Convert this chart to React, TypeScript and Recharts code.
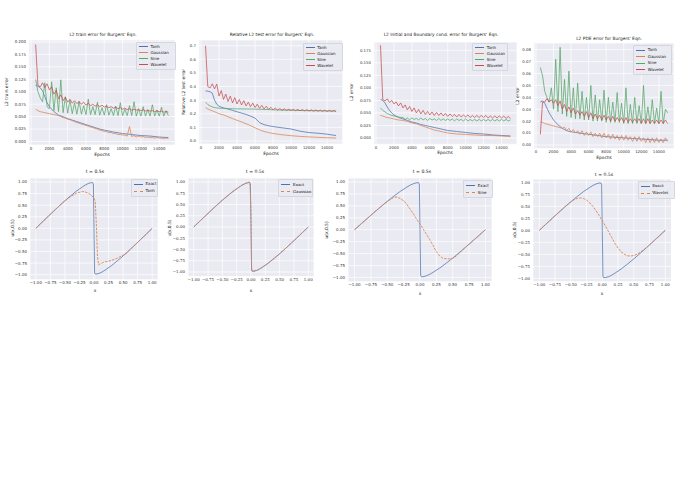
import React from "react";
import { LineChart, Line, XAxis, YAxis, CartesianGrid } from "recharts";

// seaborn deep palette
const BLUE = "#4C72B0";
const ORANGE = "#DD8452";
const GREEN = "#55A868";
const RED = "#C44E52";

const epochsDense = [
  500, 750, 1000, 1250, 1500, 1750, 2000, 2250, 2500, 2750, 3000, 3250, 3500, 3750, 4000, 4250, 4500, 4750, 5000,
  5250, 5500, 5750, 6000, 6250, 6500, 6750, 7000, 7250, 7500, 7750, 8000, 8250, 8500, 8750, 9000, 9250, 9500, 9750,
  10000, 10250, 10500, 10750, 11000, 11250, 11500, 11750, 12000, 12250, 12500, 12750, 13000, 13250, 13500, 13750,
  14000, 14250, 14500, 14750, 15000,
];
const epochsSparse = [
  500, 750, 1000, 1250, 1500, 1750, 2000, 2500, 3000, 3500, 4000, 4500, 5000, 5500, 6000, 6500, 7000, 7500, 8000,
  9000, 10000, 11000, 12000, 13000, 14000, 15000,
];
const epochTicks = [0, 2000, 4000, 6000, 8000, 10000, 12000, 14000];

// L2 train error
const trainTanh = [
  0.113, 0.111, 0.108, 0.102, 0.09, 0.078, 0.07, 0.06, 0.053, 0.05, 0.046, 0.043, 0.04, 0.037, 0.034, 0.031, 0.028,
  0.025, 0.023, 0.019, 0.016, 0.014, 0.012, 0.011, 0.009, 0.008,
];
const trainGaussian = [
  0.065, 0.062, 0.06, 0.059, 0.058, 0.057, 0.056, 0.055, 0.054, 0.053, 0.052, 0.05, 0.048, 0.047, 0.045, 0.044, 0.042,
  0.04, 0.038, 0.037, 0.035, 0.034, 0.032, 0.031, 0.029, 0.028, 0.026, 0.025, 0.023, 0.022, 0.02, 0.02, 0.018, 0.018,
  0.016, 0.016, 0.014, 0.014, 0.013, 0.013, 0.011, 0.03, 0.01, 0.012, 0.009, 0.011, 0.009, 0.01, 0.008, 0.009, 0.008,
  0.008, 0.007, 0.008, 0.007, 0.007, 0.006, 0.007, 0.006,
];
const trainSine = [
  0.125, 0.1, 0.088, 0.08, 0.118, 0.07, 0.066, 0.12, 0.062, 0.108, 0.06, 0.124, 0.058, 0.09, 0.057, 0.083, 0.056,
  0.078, 0.055, 0.081, 0.055, 0.072, 0.054, 0.085, 0.054, 0.07, 0.054, 0.079, 0.053, 0.068, 0.053, 0.074, 0.053,
  0.066, 0.052, 0.071, 0.052, 0.078, 0.052, 0.065, 0.052, 0.072, 0.052, 0.08, 0.051, 0.066, 0.051, 0.07, 0.051, 0.064,
  0.051, 0.074, 0.051, 0.063, 0.051, 0.069, 0.051, 0.062, 0.052,
];
const trainWavelet = [
  0.195, 0.113, 0.11, 0.118, 0.108, 0.116, 0.104, 0.11, 0.095, 0.103, 0.086, 0.094, 0.082, 0.089, 0.079, 0.085, 0.077,
  0.082, 0.076, 0.08, 0.075, 0.079, 0.073, 0.077, 0.072, 0.075, 0.071, 0.074, 0.07, 0.073, 0.069, 0.071, 0.068, 0.07,
  0.067, 0.069, 0.066, 0.068, 0.065, 0.067, 0.064, 0.066, 0.063, 0.065, 0.063, 0.064, 0.062, 0.064, 0.061, 0.063,
  0.061, 0.062, 0.06, 0.062, 0.06, 0.061, 0.059, 0.06, 0.059,
];

// Relative L2 test error
const testTanh = [
  0.368, 0.366, 0.362, 0.352, 0.3, 0.27, 0.255, 0.243, 0.235, 0.225, 0.215, 0.205, 0.195, 0.183, 0.168, 0.135, 0.12,
  0.112, 0.106, 0.097, 0.088, 0.072, 0.062, 0.057, 0.05, 0.04,
];
const testGaussian = [
  0.245, 0.236, 0.228, 0.222, 0.215, 0.208, 0.2, 0.192, 0.178, 0.165, 0.152, 0.14, 0.127, 0.113, 0.097, 0.082, 0.07,
  0.062, 0.055, 0.046, 0.039, 0.034, 0.03, 0.027, 0.024, 0.022,
];
const testSine = [
  0.285, 0.268, 0.258, 0.25, 0.246, 0.243, 0.241, 0.239, 0.238, 0.237, 0.236, 0.236, 0.235, 0.235, 0.234, 0.233, 0.232,
  0.231, 0.229, 0.227, 0.226, 0.224, 0.223, 0.222, 0.221, 0.22,
];
const testWavelet = [
  0.7, 0.4, 0.39, 0.42, 0.383, 0.418, 0.33, 0.37, 0.305, 0.345, 0.29, 0.33, 0.28, 0.318, 0.272, 0.305, 0.265, 0.296,
  0.258, 0.285, 0.252, 0.278, 0.246, 0.27, 0.24, 0.262, 0.236, 0.255, 0.232, 0.248, 0.229, 0.242, 0.227, 0.238, 0.226,
  0.236, 0.225, 0.234, 0.224, 0.233, 0.223, 0.232, 0.222, 0.231, 0.221, 0.23, 0.22, 0.229, 0.219, 0.228, 0.219, 0.227,
  0.218, 0.226, 0.217, 0.225, 0.217, 0.224, 0.216,
];

// L2 initial and boundary condition error
const ibcTanh = [
  0.077, 0.075, 0.07, 0.062, 0.055, 0.05, 0.046, 0.041, 0.038, 0.035, 0.032, 0.03, 0.027, 0.025, 0.023, 0.021, 0.019,
  0.017, 0.015, 0.013, 0.011, 0.009, 0.008, 0.006, 0.005, 0.004,
];
const ibcGaussian = [
  0.045, 0.044, 0.042, 0.041, 0.04, 0.039, 0.038, 0.036, 0.035, 0.033, 0.03, 0.028, 0.025, 0.022, 0.019, 0.016, 0.014,
  0.012, 0.01, 0.008, 0.007, 0.006, 0.005, 0.005, 0.004, 0.003,
];
const ibcSine = [
  0.06, 0.055, 0.052, 0.049, 0.047, 0.045, 0.044, 0.043, 0.042, 0.041, 0.041, 0.037, 0.04, 0.036, 0.04, 0.037, 0.039,
  0.036, 0.04, 0.036, 0.039, 0.035, 0.039, 0.036, 0.038, 0.035, 0.039, 0.035, 0.038, 0.035, 0.038, 0.035, 0.038,
  0.034, 0.038, 0.035, 0.037, 0.034, 0.038, 0.034, 0.037, 0.034, 0.037, 0.034, 0.037, 0.034, 0.037, 0.034, 0.037,
  0.034, 0.037, 0.034, 0.037, 0.034, 0.037, 0.034, 0.037, 0.034, 0.036,
];
const ibcWavelet = [
  0.185, 0.077, 0.074, 0.078, 0.071, 0.075, 0.068, 0.072, 0.064, 0.07, 0.06, 0.066, 0.056, 0.063, 0.053, 0.06, 0.05,
  0.057, 0.048, 0.055, 0.047, 0.053, 0.046, 0.052, 0.045, 0.051, 0.045, 0.05, 0.044, 0.049, 0.043, 0.048, 0.043, 0.047,
  0.042, 0.047, 0.042, 0.046, 0.042, 0.046, 0.041, 0.045, 0.041, 0.045, 0.041, 0.045, 0.041, 0.045, 0.04, 0.044, 0.04,
  0.044, 0.04, 0.044, 0.04, 0.044, 0.039, 0.043, 0.039,
];

// L2 PDE error
const pdeTanh = [
  0.036, 0.037, 0.035, 0.031, 0.027, 0.024, 0.021, 0.017, 0.014, 0.012, 0.011, 0.0105, 0.01, 0.0095, 0.009, 0.0085,
  0.008, 0.0075, 0.007, 0.0065, 0.006, 0.0055, 0.005, 0.0045, 0.004, 0.004,
];
const pdeGaussian = [
  0.0195, 0.019, 0.018, 0.0175, 0.017, 0.0165, 0.016, 0.0155, 0.015, 0.0145, 0.014, 0.015, 0.012, 0.014, 0.011, 0.013,
  0.01, 0.012, 0.009, 0.012, 0.008, 0.011, 0.008, 0.011, 0.007, 0.01, 0.007, 0.01, 0.006, 0.01, 0.006, 0.009, 0.005,
  0.009, 0.005, 0.008, 0.004, 0.008, 0.004, 0.008, 0.004, 0.007, 0.003, 0.007, 0.003, 0.007, 0.003, 0.006, 0.002,
  0.006, 0.002, 0.006, 0.002, 0.006, 0.002, 0.005, 0.002, 0.006, 0.003,
];
const pdeSine = [
  0.065, 0.058, 0.045, 0.04, 0.036, 0.048, 0.03, 0.072, 0.028, 0.082, 0.026, 0.055, 0.024, 0.062, 0.023, 0.048, 0.022,
  0.052, 0.022, 0.045, 0.021, 0.04, 0.021, 0.05, 0.02, 0.042, 0.02, 0.038, 0.02, 0.046, 0.019, 0.04, 0.019, 0.036,
  0.019, 0.044, 0.019, 0.035, 0.018, 0.048, 0.018, 0.034, 0.018, 0.04, 0.018, 0.033, 0.018, 0.05, 0.018, 0.032, 0.018,
  0.038, 0.018, 0.031, 0.018, 0.045, 0.018, 0.03, 0.027,
];
const pdeWavelet = [
  0.009, 0.036, 0.036, 0.039, 0.036, 0.038, 0.035, 0.038, 0.033, 0.037, 0.03, 0.034, 0.028, 0.032, 0.027, 0.031, 0.026,
  0.029, 0.025, 0.028, 0.024, 0.028, 0.023, 0.027, 0.022, 0.026, 0.022, 0.025, 0.021, 0.025, 0.021, 0.024, 0.02, 0.024,
  0.02, 0.023, 0.02, 0.023, 0.019, 0.023, 0.019, 0.022, 0.019, 0.022, 0.019, 0.022, 0.018, 0.022, 0.018, 0.022, 0.018,
  0.021, 0.018, 0.021, 0.018, 0.021, 0.018, 0.021, 0.018,
];

// u(x, 0.5) profiles
const exactX = [
  -1, -0.9, -0.8, -0.7, -0.6, -0.5, -0.4, -0.3, -0.2, -0.15, -0.1, -0.05, -0.02, -0.01, 0, 0.01, 0.02, 0.05, 0.1, 0.15,
  0.2, 0.3, 0.4, 0.5, 0.6, 0.7, 0.8, 0.9, 1,
];
const exactU = [
  0, 0.122, 0.243, 0.363, 0.481, 0.595, 0.703, 0.805, 0.893, 0.934, 0.966, 0.985, 0.985, 0.96, 0, -0.96, -0.985,
  -0.985, -0.966, -0.934, -0.893, -0.805, -0.703, -0.595, -0.481, -0.363, -0.243, -0.122, 0,
];
const tanhX = [
  -1, -0.9, -0.8, -0.7, -0.6, -0.5, -0.4, -0.3, -0.2, -0.15, -0.1, -0.05, 0, 0.02, 0.04, 0.06, 0.08, 0.1, 0.15, 0.2,
  0.25, 0.3, 0.35, 0.4, 0.45, 0.5, 0.55, 0.6, 0.7, 0.8, 0.9, 1,
];
const tanhU = [
  0, 0.122, 0.243, 0.363, 0.48, 0.592, 0.685, 0.76, 0.795, 0.785, 0.76, 0.72, 0.65, 0.58, 0.1, -0.62, -0.79, -0.77,
  -0.74, -0.72, -0.71, -0.69, -0.67, -0.645, -0.61, -0.58, -0.545, -0.485, -0.363, -0.243, -0.122, 0,
];
const gaussX = [
  -1, -0.9, -0.8, -0.7, -0.6, -0.5, -0.4, -0.3, -0.2, -0.15, -0.1, -0.05, -0.02, 0, 0.01, 0.02, 0.05, 0.1, 0.15, 0.2,
  0.3, 0.4, 0.5, 0.6, 0.7, 0.8, 0.9, 1,
];
const gaussU = [
  0, 0.122, 0.243, 0.363, 0.481, 0.595, 0.703, 0.805, 0.895, 0.938, 0.97, 0.99, 1.0, 0.4, -0.9, -0.975, -0.975,
  -0.96, -0.93, -0.89, -0.803, -0.7, -0.593, -0.48, -0.362, -0.243, -0.122, 0,
];
const sineX = [
  -1, -0.9, -0.8, -0.7, -0.6, -0.5, -0.4, -0.35, -0.3, -0.25, -0.2, -0.15, -0.1, -0.05, 0, 0.05, 0.1, 0.15, 0.2, 0.25,
  0.3, 0.35, 0.4, 0.45, 0.5, 0.55, 0.6, 0.7, 0.8, 0.9, 1,
];
const sineU = [
  0, 0.122, 0.243, 0.363, 0.48, 0.59, 0.68, 0.685, 0.65, 0.61, 0.53, 0.43, 0.33, 0.22, 0.12, 0.01, -0.1, -0.21, -0.33,
  -0.46, -0.55, -0.6, -0.61, -0.61, -0.6, -0.56, -0.49, -0.363, -0.243, -0.122, 0,
];
const waveletX = [
  -1, -0.9, -0.8, -0.7, -0.6, -0.5, -0.45, -0.4, -0.35, -0.3, -0.25, -0.2, -0.15, -0.1, -0.05, 0, 0.05, 0.1, 0.15, 0.2,
  0.25, 0.3, 0.35, 0.4, 0.45, 0.5, 0.55, 0.6, 0.65, 0.7, 0.8, 0.9, 1,
];
const waveletU = [
  0, 0.122, 0.243, 0.363, 0.48, 0.59, 0.635, 0.665, 0.675, 0.665, 0.63, 0.575, 0.5, 0.41, 0.31, 0.2, 0.09, -0.03,
  -0.15, -0.27, -0.37, -0.45, -0.5, -0.53, -0.535, -0.525, -0.5, -0.46, -0.41, -0.36, -0.243, -0.122, 0,
];
const uTicks = [-1, -0.75, -0.5, -0.25, 0, 0.25, 0.5, 0.75, 1];

const pts = (xs: number[], ys: number[]) => xs.map((x, i) => ({ x, y: ys[i] }));
const fmt = (d: number) => (v: number) => v.toFixed(d).replace("-", "\u2212");

type Series = { name: string; xs: number[]; ys: number[]; color: string; dashed?: boolean };

type PanelProps = {
  x: number;
  y: number;
  w: number;
  h: number;
  xDomain: [number, number];
  yDomain: [number, number];
  xTicks: number[];
  yTicks: number[];
  xDec: number;
  yDec: number;
  yw: number;
  series: Series[];
  font: string;
  tickSize: number;
};

const Panel = ({ x, y, w, h, xDomain, yDomain, xTicks, yTicks, xDec, yDec, yw, series, font, tickSize }: PanelProps) => {
  const xh = 12;
  const tick = { fontSize: tickSize, fill: "#333", fontFamily: font };
  return (
    <div style={{ position: "absolute", left: x - yw, top: y }}>
      <LineChart width={yw + w} height={h + xh} margin={{ top: 0, right: 0, bottom: 0, left: 0 }}>
        <CartesianGrid fill="#EAEAF2" stroke="#fff" strokeWidth={0.7} />
        <XAxis
          type="number"
          dataKey="x"
          domain={xDomain}
          ticks={xTicks}
          allowDataOverflow
          axisLine={false}
          tickLine={false}
          tickSize={1}
          tickMargin={0.8}
          height={xh}
          interval={0}
          tick={tick}
          tickFormatter={fmt(xDec)}
        />
        <YAxis
          type="number"
          domain={yDomain}
          ticks={yTicks}
          allowDataOverflow
          axisLine={false}
          tickLine={false}
          tickSize={2}
          tickMargin={1}
          width={yw}
          interval={0}
          tick={tick}
          tickFormatter={fmt(yDec)}
        />
        {series.map((s) => (
          <Line
            key={s.name}
            data={pts(s.xs, s.ys)}
            dataKey="y"
            stroke={s.color}
            strokeWidth={s.dashed ? 0.9 : 0.8}
            strokeDasharray={s.dashed ? "2.5 1.2" : undefined}
            strokeOpacity={s.dashed ? 1 : 0.95}
            dot={false}
            activeDot={false}
            isAnimationActive={false}
          />
        ))}
      </LineChart>
    </div>
  );
};

const Text = ({ x, y, text, size, font, rotate }: { x: number; y: number; text: string; size: number; font: string; rotate?: boolean }) => (
  <div
    style={{
      position: "absolute",
      left: x,
      top: y,
      transform: `translate(-50%, -50%)${rotate ? " rotate(-90deg)" : ""}`,
      fontSize: size,
      fontFamily: font,
      color: "#222",
      whiteSpace: "nowrap",
      lineHeight: 1,
    }}
  >
    {text}
  </div>
);

const LegendBox = ({ x, y, w, rowH, items, size, font }: { x: number; y: number; w: number; rowH: number; items: Series[]; size: number; font: string }) => (
  <div
    style={{
      position: "absolute",
      left: x,
      top: y,
      width: w,
      padding: "1px 0",
      background: "rgba(234,234,242,0.85)",
      border: "0.5px solid #d6d6de",
      borderRadius: 1,
      fontFamily: font,
      fontSize: size,
      color: "#222",
    }}
  >
    {items.map((s) => (
      <div key={s.name} style={{ display: "flex", alignItems: "center", height: rowH, lineHeight: 1 }}>
        <div
          style={{
            width: 9,
            marginLeft: 2,
            marginRight: 2.5,
            borderTop: `1px ${s.dashed ? "dashed" : "solid"} ${s.color}`,
          }}
        />
        <span>{s.name}</span>
      </div>
    ))}
  </div>
);

const SANS = "'DejaVu Sans', sans-serif";
const SERIF = "'DejaVu Serif', serif";
const TOPX: [number, number] = [-225, 15725];
const UX: [number, number] = [-1.1, 1.1];

export default function App() {
  const train: Series[] = [
    { name: "Tanh", xs: epochsSparse, ys: trainTanh, color: BLUE },
    { name: "Gaussian", xs: epochsDense, ys: trainGaussian, color: ORANGE },
    { name: "Sine", xs: epochsDense, ys: trainSine, color: GREEN },
    { name: "Wavelet", xs: epochsDense, ys: trainWavelet, color: RED },
  ];
  const test: Series[] = [
    { name: "Tanh", xs: epochsSparse, ys: testTanh, color: BLUE },
    { name: "Gaussian", xs: epochsSparse, ys: testGaussian, color: ORANGE },
    { name: "Sine", xs: epochsSparse, ys: testSine, color: GREEN },
    { name: "Wavelet", xs: epochsDense, ys: testWavelet, color: RED },
  ];
  const ibc: Series[] = [
    { name: "Tanh", xs: epochsSparse, ys: ibcTanh, color: BLUE },
    { name: "Gaussian", xs: epochsSparse, ys: ibcGaussian, color: ORANGE },
    { name: "Sine", xs: epochsDense, ys: ibcSine, color: GREEN },
    { name: "Wavelet", xs: epochsDense, ys: ibcWavelet, color: RED },
  ];
  const pde: Series[] = [
    { name: "Tanh", xs: epochsSparse, ys: pdeTanh, color: BLUE },
    { name: "Gaussian", xs: epochsDense, ys: pdeGaussian, color: ORANGE },
    { name: "Sine", xs: epochsDense, ys: pdeSine, color: GREEN },
    { name: "Wavelet", xs: epochsDense, ys: pdeWavelet, color: RED },
  ];
  const exact: Series = { name: "Exact", xs: exactX, ys: exactU, color: BLUE };
  const preds: Series[] = [
    { name: "Tanh", xs: tanhX, ys: tanhU, color: ORANGE, dashed: true },
    { name: "Gaussian", xs: gaussX, ys: gaussU, color: ORANGE, dashed: true },
    { name: "Sine", xs: sineX, ys: sineU, color: ORANGE, dashed: true },
    { name: "Wavelet", xs: waveletX, ys: waveletU, color: ORANGE, dashed: true },
  ];

  const topTick = 3.9;
  const botTick = 4;
  const top = [
    { x: 29, y: 40, w: 146, h: 105, yd: [-0.007, 0.204], yt: [0, 0.025, 0.05, 0.075, 0.1, 0.125, 0.15, 0.175, 0.2], dec: 3, s: train },
    { x: 199.3, y: 40, w: 143.6, h: 104, yd: [-0.022, 0.742], yt: [0, 0.1, 0.2, 0.3, 0.4, 0.5, 0.6, 0.7], dec: 1, s: test },
    { x: 374, y: 41.7, w: 143, h: 102.3, yd: [-0.0126, 0.1916], yt: [0, 0.025, 0.05, 0.075, 0.1, 0.125, 0.15, 0.175], dec: 3, s: ibc },
    { x: 533.7, y: 43.3, w: 140, h: 105.7, yd: [-0.0031, 0.0856], yt: [0, 0.01, 0.02, 0.03, 0.04, 0.05, 0.06, 0.07, 0.08], dec: 2, s: pde },
  ];
  const bottom = [
    { x: 30.2, y: 178.3, w: 128, h: 101.7, yd: [-1.108, 1.086], font: SANS },
    { x: 188.3, y: 178.3, w: 126, h: 98.4, yd: [-1.098, 1.089], font: SERIF },
    { x: 347.5, y: 178.3, w: 144, h: 103.7, yd: [-1.09, 1.084], font: SANS },
    { x: 532.7, y: 179, w: 138.6, h: 102.7, yd: [-1.07, 1.069], font: SERIF },
  ];

  return (
    <div style={{ position: "absolute", left: 0, top: 0, width: 681, height: 490, background: "#fff", overflow: "hidden" }}>
      {top.map((p, i) => (
        <Panel
          key={"t" + i}
          x={p.x}
          y={p.y}
          w={p.w}
          h={p.h}
          xDomain={TOPX}
          yDomain={p.yd as [number, number]}
          xTicks={epochTicks}
          yTicks={p.yt}
          xDec={0}
          yDec={p.dec}
          yw={16}
          series={p.s}
          font={SANS}
          tickSize={topTick}
        />
      ))}
      {bottom.map((p, i) => (
        <Panel
          key={"b" + i}
          x={p.x}
          y={p.y}
          w={p.w}
          h={p.h}
          xDomain={UX}
          yDomain={p.yd as [number, number]}
          xTicks={uTicks}
          yTicks={uTicks}
          xDec={2}
          yDec={2}
          yw={16}
          series={[exact, preds[i]]}
          font={p.font}
          tickSize={botTick}
        />
      ))}

      <Text x={103} y={35} text="L2 train error for Burgers' Eqn." size={4.4} font={SANS} />
      <Text x={272} y={35} text="Relative L2 test error for Burgers' Eqn." size={4.4} font={SANS} />
      <Text x={441} y={35} text="L2 Initial and Boundary cond. error for Burgers' Eqn." size={4.4} font={SANS} />
      <Text x={609} y={39} text="L2 PDE error for Burgers' Eqn." size={4.4} font={SANS} />

      <Text x={102} y={155} text="Epochs" size={4.4} font={SANS} />
      <Text x={271} y={154} text="Epochs" size={4.4} font={SANS} />
      <Text x={445} y={152.8} text="Epochs" size={4.4} font={SANS} />
      <Text x={604} y={158} text="Epochs" size={4.4} font={SANS} />

      <Text x={7} y={92} text="L2 train error" size={4.4} font={SANS} rotate />
      <Text x={184} y={92} text="Relative L2 test error" size={4.4} font={SANS} rotate />
      <Text x={352.3} y={92} text="L2 error" size={4.4} font={SANS} rotate />
      <Text x={517.7} y={96} text="L2 error" size={4.4} font={SANS} rotate />

      <LegendBox x={136} y={41.7} w={38} rowH={6} items={train} size={4} font={SANS} />
      <LegendBox x={302.7} y={42.7} w={38} rowH={6} items={test} size={4} font={SANS} />
      <LegendBox x={472.3} y={42.7} w={34} rowH={6} items={ibc} size={4} font={SANS} />
      <LegendBox x={633.3} y={45} w={37} rowH={6.5} items={pde} size={4} font={SANS} />

      <Text x={95} y={172} text="t = 0.5s" size={4.6} font={SANS} />
      <Text x={255} y={172} text="t = 0.5s" size={4.6} font={SERIF} />
      <Text x={422} y={172} text="t = 0.5s" size={4.6} font={SANS} />
      <Text x={604} y={175} text="t = 0.5s" size={4.6} font={SERIF} />

      <Text x={95} y={290.5} text="x" size={4.4} font={SANS} />
      <Text x={251} y={290.5} text="x" size={4.4} font={SERIF} />
      <Text x={420} y={294} text="x" size={4.4} font={SANS} />
      <Text x={602} y={294} text="x" size={4.4} font={SERIF} />

      <Text x={13.3} y={228} text="u(x,0.5)" size={4.4} font={SANS} rotate />
      <Text x={170} y={228} text="u(x,0.5)" size={4.4} font={SERIF} rotate />
      <Text x={327} y={230} text="u(x,0.5)" size={4.4} font={SANS} rotate />
      <Text x={515} y={230} text="u(x,0.5)" size={4.4} font={SERIF} rotate />

      <LegendBox x={131} y={178.7} w={25} rowH={7} items={[exact, preds[0]]} size={4} font={SANS} />
      <LegendBox x={278.3} y={179} w={33} rowH={7} items={[exact, preds[1]]} size={4} font={SERIF} />
      <LegendBox x={463.3} y={180} w={28} rowH={7} items={[exact, preds[2]]} size={4} font={SANS} />
      <LegendBox x={637.7} y={180.5} w={35} rowH={7} items={[exact, preds[3]]} size={4} font={SERIF} />
    </div>
  );
}
